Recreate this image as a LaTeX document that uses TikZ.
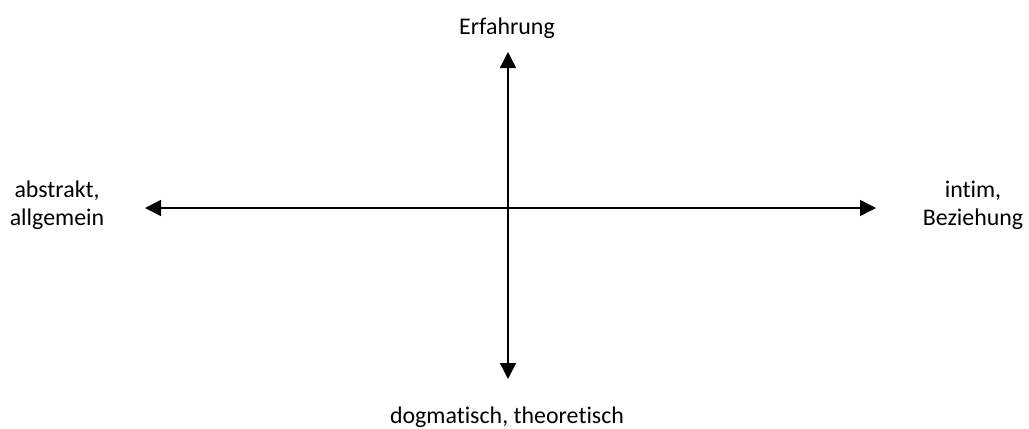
\documentclass[tikz,border=0pt]{standalone}
\usepackage{fontspec}
\setmainfont[Ligatures=NoCommon]{Carlito}
\usepackage{tikz}
\usetikzlibrary{positioning,arrows.meta}
\tikzset{
    axislabel/.style={
        font=\fontsize{17}{19.5}\selectfont, align=center, inner sep=0pt, anchor=base
    },
    axisarrow/.style={{Triangle[length=4mm,width=4mm]}-{Triangle[length=4mm,width=4mm]}, line width=1pt, color=black},
}
\begin{document}
\begin{tikzpicture}[x=0.025cm, y=-0.025cm]
    \useasboundingbox (0,0) rectangle (1029,428);
    % axis ends
    \coordinate (top) at (508,52);
    \coordinate (bottom) at (508,379);
    \coordinate (left) at (145,208);
    \coordinate (right) at (876,208);
    % labels
    \node[axislabel] (erf) at (507,34) {Erfahrung};
    \node[axislabel] (dog) at (507,423) {dogmatisch, theoretisch};
    \node[axislabel] (abs) at (57,225) {abstrakt,\\allgemein};
    \node[axislabel] (int) at (973,225) {intim,\\Beziehung};
    \draw[axisarrow] (top) -- (bottom);
    \draw[axisarrow] (left) -- (right);
\end{tikzpicture}
\end{document}
